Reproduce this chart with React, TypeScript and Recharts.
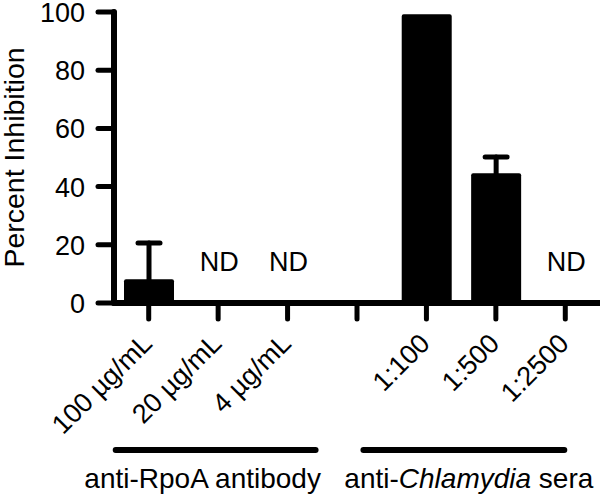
import {
  ComposedChart,
  Bar,
  Scatter,
  XAxis,
  YAxis,
  ErrorBar,
  Label,
} from "recharts";

const categories = ["100 µg/mL", "20 µg/mL", "4 µg/mL", "", "1:100", "1:500", "1:2500"];
const inhibition = [8.2, null, null, null, 99.2, 44.6, null];
// only the upper whisker is visible; the lower one stays hidden inside the bar
const errorUpper = [12.4, null, null, null, null, 5.6, null];
const errorLower = [1.5, null, null, null, null, 5.6, null];
const notDetermined = [false, true, true, false, false, false, true];
const yTicks = [0, 20, 40, 60, 80, 100];
const groups = [
  { parts: [{ text: "anti-RpoA antibody" }], from: 0, to: 2 },
  {
    parts: [{ text: "anti-" }, { text: "Chlamydia", italic: true }, { text: " sera" }],
    from: 4,
    to: 6,
  },
];

const W = 600;
const H = 495;
const Y_AXIS_W = 114;
const BAND = (W - Y_AXIS_W) / categories.length;
const FONT = "'Liberation Sans', Arial, Helvetica, sans-serif";

// bracket ends relative to first/last tick of the group, and label nudge
const BRACKET_PAD = [
  [33, 28],
  [63, -1],
];
const LABEL_NUDGE = [-13, 5];

const data = categories.map((name, i) => ({
  name,
  value: inhibition[i],
  err: errorUpper[i] == null ? null : [errorLower[i], errorUpper[i]],
  nd: notDetermined[i] ? 0 : null,
}));

function XTick(props: any) {
  const { x, y, payload } = props;
  const i = props.index ?? payload.index;
  const gi = groups.findIndex((g) => g.from === i);
  const g = gi >= 0 ? groups[gi] : null;
  const ax = x + 5;
  const ay = y + 26;
  return (
    <g>
      {payload.value ? (
        <text
          x={ax}
          y={ay}
          textAnchor="end"
          transform={`rotate(-45 ${ax} ${ay})`}
          fontFamily={FONT}
          fontSize={27}
          fill="#000"
        >
          {payload.value}
        </text>
      ) : null}
      {g && (
        <g>
          <line
            x1={x - BRACKET_PAD[gi][0]}
            x2={x + (g.to - g.from) * BAND + BRACKET_PAD[gi][1]}
            y1={y + 131}
            y2={y + 131}
            stroke="#000"
            strokeWidth={6}
            strokeLinecap="round"
          />
          <text
            x={(x - BRACKET_PAD[gi][0] + x + (g.to - g.from) * BAND + BRACKET_PAD[gi][1]) / 2 + LABEL_NUDGE[gi]}
            y={y + 169}
            textAnchor="middle"
            fontFamily={FONT}
            fontSize={28}
            fill="#000"
          >
            {g.parts.map((p: any, k: number) => (
              <tspan key={k} fontStyle={p.italic ? "italic" : "normal"}>
                {p.text}
              </tspan>
            ))}
          </text>
        </g>
      )}
    </g>
  );
}

function YTick(props: any) {
  const { x, y, payload } = props;
  return (
    <text x={x} y={y + 10} textAnchor="end" fontFamily={FONT} fontSize={27} fill="#000">
      {payload.value}
    </text>
  );
}

function NdMark(props: any) {
  const { cx, cy, payload } = props;
  if (payload == null || payload.nd == null || cx == null || cy == null) return <g />;
  return (
    <text x={cx + 1} y={cy - 32} textAnchor="middle" fontFamily={FONT} fontSize={27} fill="#000">
      ND
    </text>
  );
}

export default function App() {
  return (
    <div style={{ position: "absolute", left: 0, top: 0, background: "#fff" }}>
      <ComposedChart
        width={W}
        height={H}
        data={data}
        margin={{ top: 12, right: 0, left: 0, bottom: 0 }}
      >
        <XAxis
          dataKey="name"
          interval={0}
          height={192}
          tickSize={16}
          tickMargin={0}
          axisLine={{ stroke: "#000", strokeWidth: 6, strokeLinecap: "round" }}
          tickLine={{ stroke: "#000", strokeWidth: 5, strokeLinecap: "round" }}
          tick={<XTick />}
        />
        <YAxis
          domain={[0, 100]}
          ticks={yTicks}
          width={Y_AXIS_W}
          tickSize={16}
          tickMargin={13}
          axisLine={{ stroke: "#000", strokeWidth: 6, strokeLinecap: "round" }}
          tickLine={{ stroke: "#000", strokeWidth: 5, strokeLinecap: "round" }}
          tick={<YTick />}
        >
          <Label
            content={(p: any) => {
              const vb = p.viewBox || { y: 12, height: 291 };
              const cy = vb.y + vb.height / 2;
              return (
                <text
                  x={24}
                  y={cy}
                  textAnchor="middle"
                  transform={`rotate(-90 24 ${cy})`}
                  fontFamily={FONT}
                  fontSize={28.5}
                  fill="#000"
                >
                  Percent Inhibition
                </text>
              );
            }}
          />
        </YAxis>
        <Bar dataKey="value" fill="#000" barSize={50} radius={2} isAnimationActive={false}>
          <ErrorBar
            dataKey="err"
            direction="y"
            width={11}
            stroke="#000"
            strokeWidth={5}
            strokeLinecap="round"
          />
        </Bar>
        <Scatter dataKey="nd" shape={<NdMark />} isAnimationActive={false} />
      </ComposedChart>
    </div>
  );
}
